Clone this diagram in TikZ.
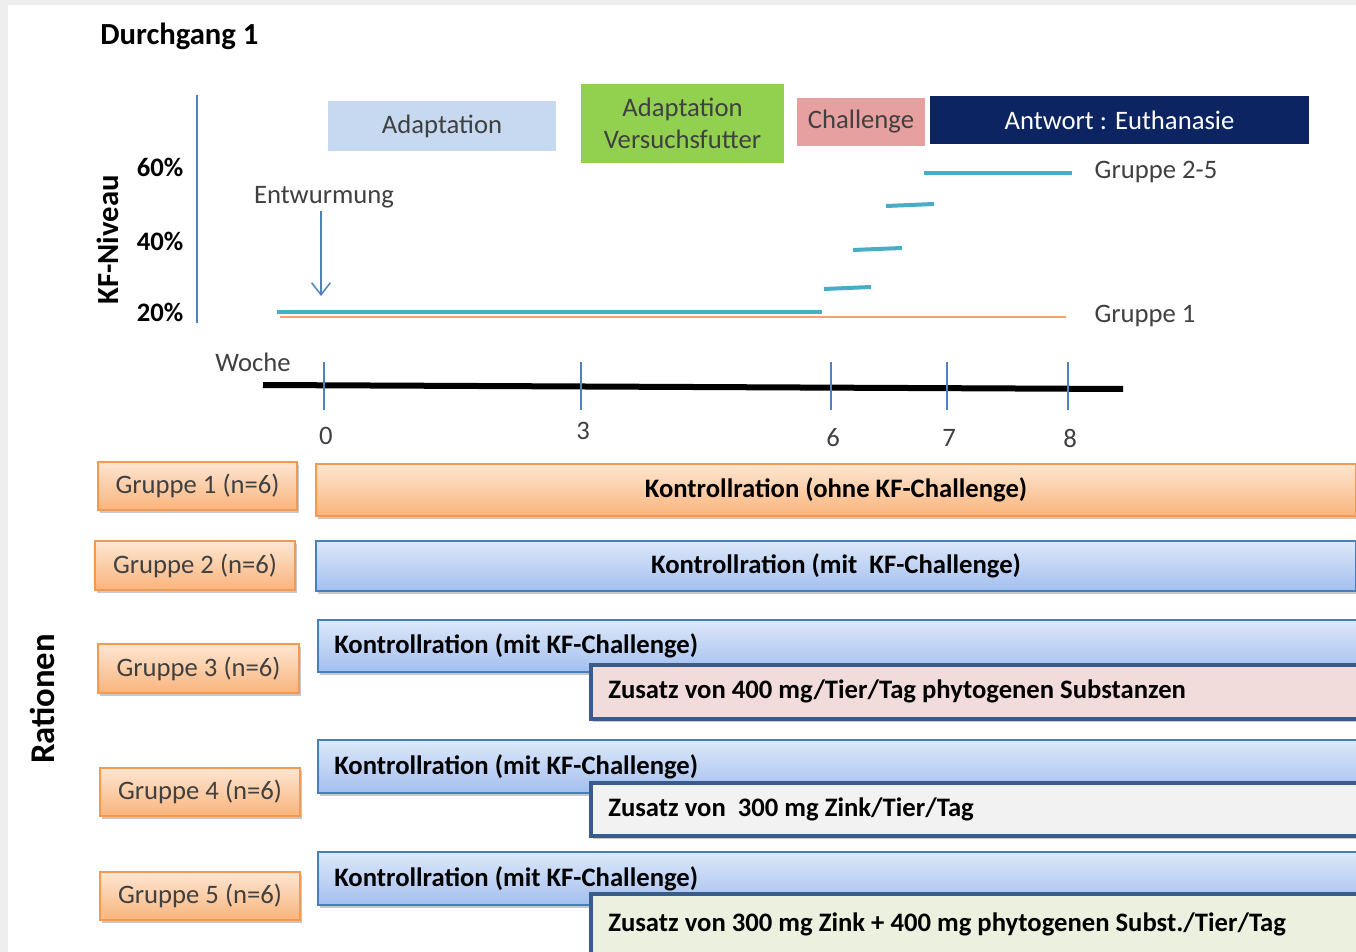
\documentclass[tikz,border=0pt]{standalone}
\usepackage{fontspec}
\setmainfont{Carlito}
\usetikzlibrary{arrows.meta,shadows}
\definecolor{framegray}{HTML}{EEEEEE}
\definecolor{axblue}{HTML}{4F81BD}
\definecolor{tealc}{HTML}{4BACC6}
\definecolor{orgline}{HTML}{F0A468}
\definecolor{orgTop}{HTML}{FEE6D2}
\definecolor{orgBot}{HTML}{F9B47C}
\definecolor{orgBorder}{HTML}{F29A52}
\definecolor{bluTop}{HTML}{DDE8FA}
\definecolor{bluBot}{HTML}{A3BFEF}
\definecolor{bluBorder}{HTML}{4A7EBB}
\definecolor{navyline}{HTML}{385D8A}
\definecolor{adfill}{HTML}{C6D9F1}
\definecolor{greenfill}{HTML}{92D050}
\definecolor{chfill}{HTML}{E6A0A0}
\definecolor{navyfill}{HTML}{0C2461}
\definecolor{txtgray}{HTML}{404040}
\definecolor{pinkfill}{HTML}{F2DCDB}
\definecolor{grayfill}{HTML}{F2F2F2}
\definecolor{olivefill}{HTML}{EBF1DE}
\newcommand\mybox[7]{\node[#6, minimum width={(#4-#2)*0.75pt}, minimum height={(#5-#3)*0.75pt}] (#1) at ({(#2+#4)/2},{(#3+#5)/2}) {#7};}
\tikzset{
  t20/.style={font=\fontsize{20}{24}\selectfont, inner sep=0pt},
  t20b/.style={font=\fontsize{20}{24}\selectfont\bfseries, inner sep=0pt},
  phase/.style={t20, draw=none},
  shad/.style={drop shadow={shadow xshift=1.2pt, shadow yshift=-2pt, opacity=0.3, fill=black!70}},
  grp/.style={shad, draw=orgBorder, line width=1.2pt, top color=orgTop, bottom color=orgBot, text=txtgray, font=\fontsize{20}{24}\selectfont, inner sep=0pt},
  oration/.style={shad, draw=orgBorder, line width=1.2pt, top color=orgTop, bottom color=orgBot, t20b},
  bration/.style={shad, draw=bluBorder, line width=1.2pt, top color=bluTop, bottom color=bluBot, t20b},
  addbox/.style={shad, draw=navyline, line width=2.4pt, t20b},
  tealline/.style={draw=tealc, line width=3pt},
  tickline/.style={draw=axblue, line width=1.1pt},
}
\begin{document}
\begin{tikzpicture}[x=0.75pt,y=-0.75pt]
\useasboundingbox (0,0) rectangle (1356,952);
\fill[framegray] (0,0) rectangle (1356,952);
\fill[white] (8,5) rectangle (1356,952);
\clip (0,0) rectangle (1356,952);

% title and axis labels
\node[font=\fontsize{23}{27}\selectfont\bfseries, inner sep=0pt, anchor=west] (title) at (100,36) {Durchgang 1};
\node[font=\fontsize{23}{27}\selectfont\bfseries, inner sep=0pt, rotate=90] (kf) at (108,240) {KF-Niveau};
\node[font=\fontsize{26}{30}\selectfont\bfseries, inner sep=0pt, rotate=90] (rat) at (42,699) {Rationen};
\node[t20b] (p60) at (160,167) {60\%};
\node[t20b] (p40) at (160,241) {40\%};
\node[t20b] (p20) at (160,312) {20\%};
\coordinate (yTop) at (197,95);
\coordinate (yBot) at (197,323);
\draw[axblue, line width=1.1pt] (yTop) -- (yBot);

% phases
\mybox{ad}{328}{101}{556}{151}{phase, fill=adfill, text=txtgray}{Adaptation}
\mybox{av}{581}{84}{784}{163}{phase, fill=greenfill, text=txtgray, align=center}{Adaptation\\Versuchsfutter}
\mybox{ch}{797}{98}{925}{146}{phase, fill=chfill, text=txtgray}{Challenge}
\mybox{an}{930}{96}{1309}{144}{phase, fill=navyfill, text=white}{Antwort : Euthanasie}

% Entwurmung
\node[t20, text=txtgray] (ent) at (324,197) {Entwurmung};
\coordinate (entEnd) at (321,296);
\draw[axblue, line width=1.1pt, -{Straight Barb[length=9pt,width=14pt,line width=1.1pt]}] (321,211) -- (entEnd);

% KF levels
\draw[orgline, line width=1.6pt] (280,317) -- (1066,317);
\draw[tealline] (277,312) -- (822,312);
\draw[tealline] (824,289) -- (871,287);
\draw[tealline] (853,250) -- (902,248);
\draw[tealline] (886,206) -- (934,204);
\draw[tealline] (924,173) -- (1072,173);
\node[t20, text=txtgray] (g25) at (1156,172) {Gruppe 2-5};
\node[t20, text=txtgray] (g1l) at (1145,316) {Gruppe 1};

% time axis
\node[t20, text=txtgray] (woche) at (253,362) {Woche};
\draw[black, line width=4.5pt] (263,385) -- (1123,389);
\foreach \xx/\lab/\ly in {324/0/436, 581/3/431, 831/6/438, 947/7/438, 1068/8/438}{
  \draw[tickline] (\xx,362) -- (\xx,410);
  \node[t20, text=txtgray] (w\lab) at (\xx+2,\ly) {\lab};
}

% groups
\mybox{g1}{98}{462}{297}{510}{grp}{Gruppe 1 (n=6)}
\mybox{g2}{95}{541}{295}{590}{grp}{Gruppe 2 (n=6)}
\mybox{g3}{98}{644}{299}{693}{grp}{Gruppe 3 (n=6)}
\mybox{g4}{100}{768}{300}{816}{grp}{Gruppe 4 (n=6)}
\mybox{g5}{100}{872}{300}{920}{grp}{Gruppe 5 (n=6)}

% rations
\mybox{r1}{316}{464}{1356}{516}{oration}{Kontrollration (ohne KF-Challenge)}
\mybox{r2}{316}{541}{1356}{591}{bration}{Kontrollration (mit\ \ KF-Challenge)}

\mybox{r3}{318}{620}{1360}{672}{bration}{}
\node[t20b, anchor=west] (r3t) at (334,646) {Kontrollration (mit KF-Challenge)};
\mybox{z3}{591}{665}{1362}{719}{addbox, fill=pinkfill}{}
\node[t20b, anchor=west] (z3t) at (608,691) {Zusatz von 400 mg/Tier/Tag phytogenen Substanzen};

\mybox{r4}{318}{740}{1360}{793}{bration}{}
\node[t20b, anchor=west] (r4t) at (334,767) {Kontrollration (mit KF-Challenge)};
\mybox{z4}{591}{783}{1362}{836}{addbox, fill=grayfill}{}
\node[t20b, anchor=west] (z4t) at (608,809) {Zusatz von\ \ 300 mg Zink/Tier/Tag};

\mybox{r5}{318}{852}{1360}{905}{bration}{}
\node[t20b, anchor=west] (r5t) at (334,879) {Kontrollration (mit KF-Challenge)};
\mybox{z5}{591}{894}{1362}{964}{addbox, fill=olivefill}{}
\node[t20b, anchor=west] (z5t) at (608,924) {Zusatz von 300 mg Zink + 400 mg phytogenen Subst./Tier/Tag};
\end{tikzpicture}
\end{document}
